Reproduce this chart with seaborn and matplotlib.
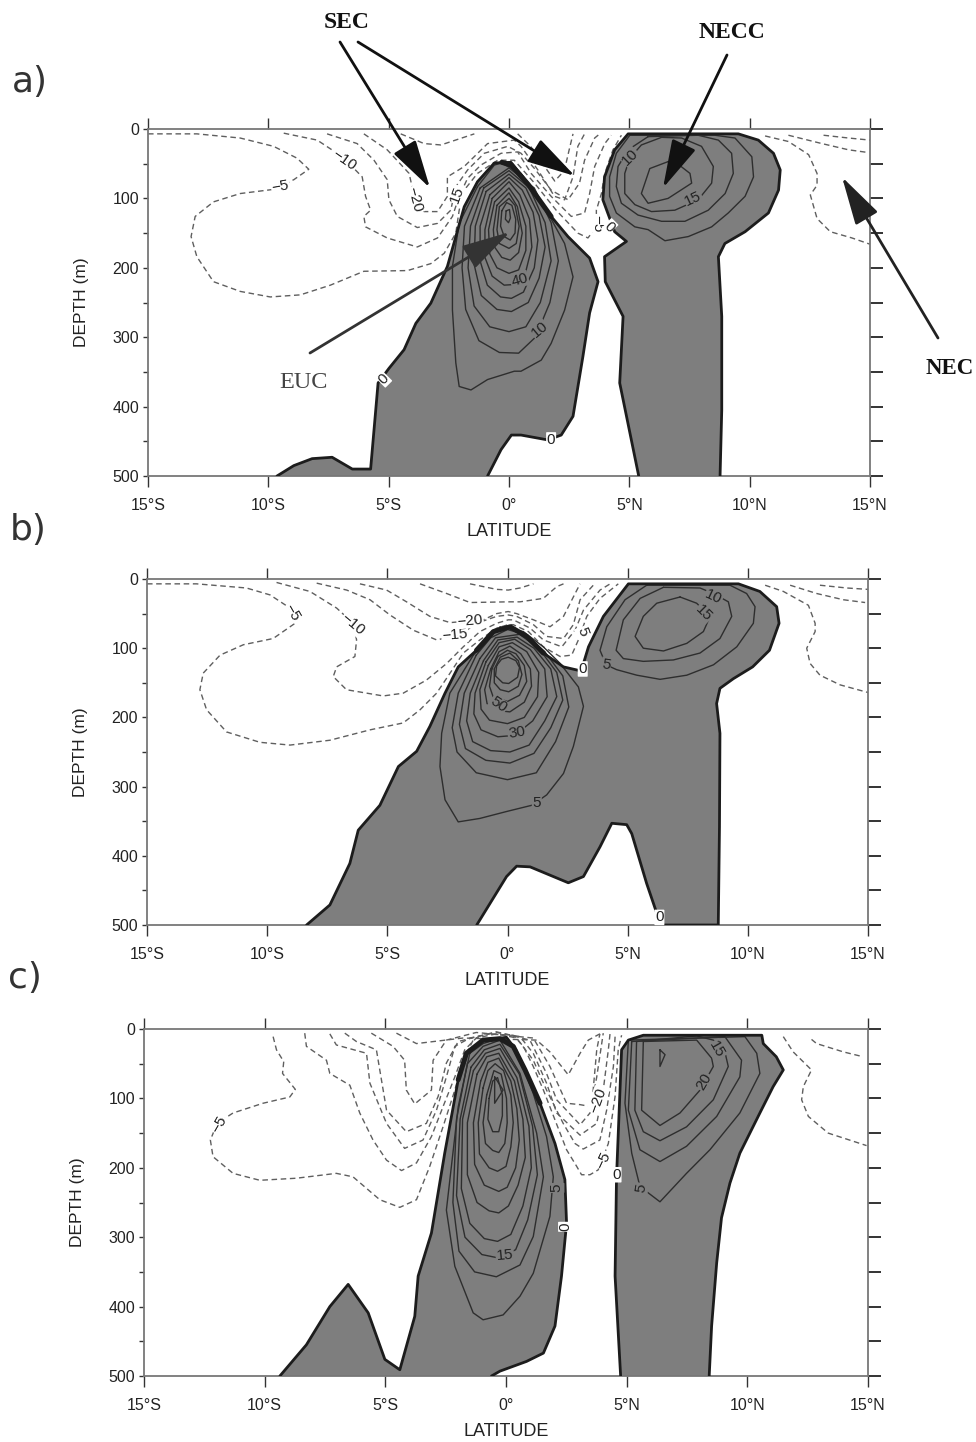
"""
plot.py - zonal velocity sections (a, b, c), contours traced from the figure
Run: python plot.py
"""

import matplotlib
matplotlib.use("Agg")
import matplotlib.pyplot as plt
import seaborn as sns

# ---------------------------------------------
# Axis values
# ---------------------------------------------
LAT_TICKS = [-15, -10, -5, 0, 5, 10, 15]
LAT_LABELS = ["15°S", "10°S", "5°S", "0°", "5°N", "10°N", "15°N"]
DEPTH_TICKS = [0, 50, 100, 150, 200, 250, 300, 350, 400, 450, 500]
DEPTH_LABELS = ["0", "", "100", "", "200", "", "300", "", "400", "", "500"]

# ---------------------------------------------
# Panel a : (lat, depth)
# ---------------------------------------------
A_ZERO_WEST = [(-9.64,500),(-8.94,485),(-8.18,475),(-7.35,473),(-6.51,490),(-5.75,490),(-5.44,366),(-4.99,345),
               (-4.36,318),(-3.87,280),(-3.25,251),(-2.56,198),(-2.21,155),(-1.86,112),(-1.31,76),(-.61,49),(.08,48),
               (.78,78),(1.75,126),(2.45,155),(3.35,186),(3.7,220),(3.35,265),(3.07,328),(2.66,414),(2.17,441),
               (1.61,448),(.5,441),(.1,441),(-.33,462),(-.89,500)]
A_ZERO_EAST = [(5.39,500),(4.6,366),(4.74,270),(4.0,220),(3.97,184),(4.88,162),(4.39,148),(3.9,102),(3.97,69),
               (4.39,30),(4.95,7),(9.53,7),(10.36,16),(10.99,35),(11.27,59),(11.2,88),(10.78,121),(9.81,148),
               (8.97,165),(8.7,184),(8.84,270),(8.84,405),(8.77,500)]
A_CREST = [(-.3,48),(.1,52),(.8,80),(1.75,126)]
A_RING1 = [(-1.31,83),(-2.07,136),(-2.35,198),(-2.35,261),(-2.21,337),(-2.07,371),(-1.58,376),(-.89,361),(.22,349),
           (.5,349),(1.34,333),(1.75,309),(2.31,261),(2.66,213),(2.31,165),(1.47,112),(.5,64),(-.33,49),(-.61,52)]
A_RING2 = [(-1.2,85),(-1.85,140),(-1.95,200),(-1.8,260),(-1.25,305),(-.4,322),(.4,323),(1.1,300),(1.7,250),
           (2.05,190),(1.75,135),(1.05,85),(0,56)]
A_RING3 = [(-1.05,85),(-1.6,140),(-1.7,200),(-1.45,255),(-.8,285),(0,292),(.7,285),(1.3,250),(1.75,190),(1.5,135),
           (.85,85),(0,60)]
A_RING4 = [(-.95,90),(-1.4,140),(-1.45,195),(-1.15,240),(-.5,260),(.1,263),(.8,250),(1.25,215),(1.5,170),(1.25,125),
           (.7,85),(0,65)]
A_RING5 = [(-.8,95),(-1.2,140),(-1.2,190),(-.9,225),(-.35,242),(.1,244),(.6,235),(1.05,200),(1.2,160),(1.0,120),
           (.55,88),(0,70)]
A_RING6 = [(-.7,100),(-1.0,145),(-1.0,185),(-.7,212),(-.2,225),(.25,224),(.7,205),(.95,170),(.85,130),(.45,95),(0,76)]
A_RING7 = [(-.6,105),(-.85,145),(-.8,180),(-.5,200),(0,208),(.4,203),(.7,175),(.7,140),(.4,105),(0,85)]
A_RING8 = [(-.5,110),(-.65,145),(-.6,170),(-.3,185),(.05,189),(.4,178),(.55,150),(.35,112),(0,92)]
A_RING9 = [(-.4,112),(-.5,145),(-.4,165),(0,172),(.3,165),(.42,140),(.25,110),(0,100)]
A_RING10 = [(-.3,118),(-.35,140),(-.2,155),(.05,160),(.25,150),(.28,130),(.12,110),(-.1,106)]
A_CORE = [(-.12,118),(-.15,130),(-.02,135),(.06,128),(.02,116)]
A_EAST1 = [(5.02,9),(4.46,35),(4.18,69),(4.18,97),(4.46,121),(5.23,141),(5.78,145),(6.48,161),(7.45,155),(8.42,141),
           (9.11,121),(9.81,97),(10.16,69),(10.09,40),(9.39,13),(8.56,9)]
A_EAST2 = [(5.78,11),(4.95,30),(4.53,54),(4.46,83),(4.67,107),(5.36,124),(6.34,133),(7.31,133),(8.28,117),(8.98,93),
           (9.32,64),(9.25,35),(8.7,16),(7.86,9)]
A_EAST3 = [(6.34,12),(5.5,23),(5.02,42),(4.81,64),(4.81,93),(5.23,109),(5.92,119),(6.89,117),(7.86,102),(8.42,78),
           (8.49,54),(8.0,25),(7.17,13)]
A_EAST4 = [(6.61,47),(5.85,57),(5.5,93),(5.78,107),(6.61,100),(7.59,78),(7.52,64),(6.89,47)]
A_NEG5 = [(-15,7),(-12.97,7),(-11.17,13),(-9.78,25),(-8.81,42),(-8.32,58),(-8.94,73),(-9.78,87),(-11.17,93),
          (-12.28,105),(-13.04,126),(-13.21,155),(-12.97,184),(-12.28,220),(-11.17,234),(-9.92,242),(-8.67,239),
          (-7.42,225),(-6.03,205),(-4.22,204),(-3.25,194),(-2.69,179),(-2.21,150),(-2.07,117),(-1.86,88),(-1.31,64),
          (-.47,45),(.22,45),(1.06,78),(1.96,117),(2.86,150),(3.28,157),(3.63,141),(3.63,117),(3.84,93),(3.98,64),
          (4.32,30),(4.67,9)]
A_NEG10 = [(-9.36,6),(-7.97,16),(-7.14,35),(-6.58,52),(-6.1,69),(-5.96,97),(-5.75,117),(-6.03,126),(-5.96,141),
           (-5.06,157),(-3.81,170),(-2.97,157),(-2.35,126),(-2.07,97),(-1.72,71),(-1.17,52),(-.33,35),(.36,33),
           (.92,64),(1.75,97),(2.59,126),(3.14,121),(3.35,93),(3.56,54),(3.98,21),(4.25,9)]
A_NEG15 = [(-7.56,7),(-6.31,21),(-5.61,45),(-5.06,73),(-4.99,102),(-4.64,126),(-3.81,142),(-2.97,136),(-2.42,117),
           (-2.21,83),(-1.72,59),(-1.03,35),(-.05,25),(.5,35),(1.06,57),(1.75,88),(2.45,102),(2.93,78),(3.14,45),
           (3.56,13),(3.77,7)]
A_NEG20 = [(-6.03,7),(-5.06,30),(-4.15,64),(-3.94,97),(-3.53,119),(-2.97,119),(-2.56,97),(-2.56,69),(-1.86,54),
           (-.89,21),(.22,16),(.5,25),(1.2,59),(1.89,97),(2.31,102),(2.66,69),(2.86,25),(3.14,7)]
A_NEG25 = [(-4.5,7),(-3.53,21),(-2.83,23),(-1.44,7)]
A_NEG30 = [(.36,7),(.9,25),(1.4,50),(1.9,75),(2.3,60),(2.5,30),(2.66,7)]
A_NEG_E1 = [(10.64,10),(11.61,18),(12.45,37),(12.8,64),(12.8,81),(12.52,95),(12.8,129),(13.35,148),(14.25,157),(15,166)]
A_NEG_E2 = [(11.61,9),(13.0,21),(14.11,30),(14.95,34)]
A_NEG_E3 = [(13.07,9),(14.11,13),(15,16)]
A_LABELS = [(-9.5,83,"−5",10,"w"),(-6.86,45,"−10",-35,"w"),(-3.94,102,"−20",-75,"w"),(-2.14,95,"15",70,"w"),
            (3.67,136,"−5",-90,"w"),(-5.22,360,"0",45,"w"),(1.75,448,"0",0,"w"),(4.18,141,"0",-45,"w"),
            (.43,217,"40",15,"g"),(1.27,289,"10",40,"g"),(5.02,40,"10",45,"g"),(7.66,101,"15",25,"g")]

# ---------------------------------------------
# Panel b
# ---------------------------------------------
B_ZERO = [(-8.36,500),(-7.39,471),(-6.56,411),(-6.21,363),(-5.31,327),(-4.54,271),(-3.78,249),(-3.23,213),(-2.6,165),
          (-2.05,127),(-1.29,103),(-.59,76),(.03,69),(.8,83),(1.49,107),(2.33,127),(2.95,132),(3.16,122),(3.37,98),
          (3.99,54),(5.03,7),(9.61,7),(10.5,18),(11.2,40),(11.3,64),(10.9,103),(10.2,127),(9.4,144),(8.84,158),
          (8.7,180),(8.84,223),(8.82,358),(8.77,500),(6.42,500),(6.28,490),(5.79,440),(5.17,368),(4.96,355),
          (4.34,353),(3.85,387),(3.16,430),(2.53,439),(1.77,428),(.94,416),(.38,415),(-.04,430),(-1.28,500)]
B_CREST = [(-1.29,103),(-.59,76),(.11,69),(.8,83),(1.49,107)]
B_RING1 = [(-1.42,110),(-2.4,165),(-2.74,223),(-2.81,271),(-2.6,319),(-2.05,351),(-1.15,346),(-.04,336),(1.01,327),
           (1.63,312),(2.33,281),(2.74,242),(3.16,184),(2.95,156),(2.19,122),(1.49,98),(.66,76),(-.31,69)]
B_RING2 = [(-1.3,110),(-2.05,165),(-2.3,215),(-2.1,250),(-1.3,280),(0,290),(1.2,280),(2.0,235),(2.55,185),(2.3,140),
           (1.55,105),(.7,80),(0,73),(-.7,85)]
B_RING3 = [(-1.15,115),(-1.8,165),(-2.0,210),(-1.75,245),(-.9,262),(.1,266),(1.1,252),(1.8,215),(2.3,175),(2.05,135),
           (1.3,100),(.5,80),(-.5,85)]
B_RING4 = [(-1.0,118),(-1.55,165),(-1.7,205),(-1.45,235),(-.7,248),(.1,250),(.9,240),(1.55,205),(2.05,170),(1.8,130),
           (1.1,100),(.4,84),(-.4,88)]
B_RING5 = [(-.9,120),(-1.35,165),(-1.4,195),(-1.1,218),(-.4,228),(.3,226),(1.05,205),(1.65,170),(1.55,130),(.95,102),
           (.3,87),(-.35,92)]
B_RING6 = [(-.8,125),(-1.15,160),(-1.1,188),(-.75,204),(0,209),(.7,200),(1.25,170),(1.3,135),(.8,105),(.2,92),(-.35,98)]
B_RING7 = [(-.7,130),(-.95,160),(-.85,180),(-.45,190),(.1,192),(.7,178),(1.0,155),(.95,130),(.55,108),(.1,97),(-.35,105)]
B_RING8 = [(-.65,130),(-.75,155),(-.6,170),(0,177),(.5,168),(.8,148),(.7,125),(.35,108),(0,103),(-.4,112)]
B_RING9 = [(-.55,130),(-.55,150),(-.3,160),(.05,163),(.45,155),(.6,138),(.45,118),(.1,107),(-.3,113)]
B_CORE = [(-.45,125),(-.5,140),(-.2,150),(.05,151),(.42,142),(.5,128),(.35,118),(.03,113),(-.25,116)]
B_EAST1 = [(5.79,9),(4.89,30),(4.13,69),(3.85,103),(4.1,124),(4.54,131),(5.38,139),(6.35,145),(7.46,139),(8.57,124),
           (9.54,98),(10.23,64),(10.3,40),(9.95,21),(9.26,9)]
B_EAST2 = [(6.49,12),(5.52,28),(4.82,59),(4.52,103),(4.82,115),(5.65,119),(6.9,117),(8.01,107),(8.84,86),(9.33,54),
           (9.19,33),(8.57,21),(8.01,13)]
B_EAST3 = [(7.18,26),(6.21,35),(5.65,54),(5.31,83),(5.65,100),(6.49,104),(7.46,93),(8.15,76),(8.43,54),(7.87,35)]
B_NEG5 = [(-15,7),(-12.94,7),(-10.86,13),(-9.88,23),(-9.05,42),(-8.84,64),(-9.75,86),(-10.99,95),(-11.96,110),
          (-12.66,136),(-12.8,160),(-12.52,189),(-11.69,221),(-10.3,236),(-9.05,240),(-7.39,233),(-5.72,218),
          (-4.34,208),(-3.64,189),(-2.95,165),(-2.39,136),(-1.84,107),(-1.15,88),(-.45,71),(.03,66),(.24,66),(.87,76),
          (1.49,98),(2.19,112),(2.67,110),(2.95,88),(3.3,54),(3.85,28),(4.61,7)]
B_NEG10 = [(-9.61,5),(-8.22,18),(-7.11,42),(-6.42,64),(-6.28,88),(-6.35,112),(-7.11,127),(-7.25,141),(-6.7,160),
           (-5.17,169),(-4.34,165),(-3.37,146),(-2.53,122),(-1.84,98),(-1.15,76),(-.45,64),(.03,59),(.24,59),(.94,71),
           (1.49,88),(2.26,98),(2.81,74),(3.16,45),(3.85,16),(4.27,7)]
B_NEG15 = [(-7.94,6),(-6.69,16),(-5.72,30),(-4.89,52),(-3.92,74),(-2.95,88),(-1.98,81),(-1.29,64),(-.45,54),(.03,52),
           (.38,54),(1.08,66),(1.63,83),(2.33,86),(2.74,66),(3.02,30),(3.57,9)]
B_NEG20 = [(-6.14,7),(-5.03,16),(-4.2,33),(-3.23,54),(-2.39,63),(-1.01,59),(-.45,50),(.03,47),(.38,50),(1.08,59),
           (1.77,69),(2.33,54),(2.74,26),(3.02,7)]
B_NEG25 = [(-3.64,7),(-2.53,21),(-1.56,34),(.03,33),(.52,33),(1.49,28),(2.05,11),(2.33,7)]
B_NEG30 = [(-1.56,7),(-.45,15),(.03,16),(.52,13),(1.08,7)]
B_NEG_E1 = [(10.72,9),(11.48,18),(12.52,38),(12.8,64),(12.8,76),(12.45,100),(12.59,122),(13.0,139),(13.84,153),(15,164)]
B_NEG_E2 = [(11.76,9),(12.87,21),(13.98,30),(14.88,34)]
B_NEG_E3 = [(13.0,9),(14.12,13),(15,15)]
B_LABELS = [(-8.95,49,"−5",-60,"w"),(-6.42,66,"−10",-40,"w"),(-2.19,81,"−15",5,"w"),(-1.56,60,"−20",5,"w"),
            (3.13,76,"5",-70,"w"),(3.13,130,"0",0,"w"),(6.32,489,"0",0,"w"),(-.38,182,"50",-35,"g"),
            (.38,222,"30",10,"g"),(1.22,323,"5",0,"g"),(4.1,124,"5",-10,"g"),(8.57,26,"10",-25,"g"),
            (8.15,50,"15",-45,"g")]

# ---------------------------------------------
# Panel c
# ---------------------------------------------
C_ZERO_WEST = [(-9.37,500),(-8.27,455),(-7.3,400),(-6.54,368),(-5.71,409),(-5.02,476),(-4.4,491),(-3.78,414),(-3.64,356),
               (-3.09,294),(-2.54,179),(-1.98,73),(-1.64,35),(-.95,16),(.02,12),(.3,25),(.79,59),(1.41,107),(2.03,165),
               (2.44,217),(2.51,280),(2.3,356),(2.03,428),(1.55,467),(.85,479),(-.25,493),(-.6,500)]
C_ZERO_EAST = [(4.75,500),(4.52,356),(4.58,213),(4.79,30),(5.07,16),(5.69,9),(10.6,9),(10.66,21),(11.2,40),(11.49,59),
               (11.07,83),(10.52,121),(9.69,179),(9.28,222),(8.93,272),(8.73,337),(8.52,428),(8.42,500)]
C_CREST = [(-1.98,73),(-1.64,35),(-.95,16),(-.25,14),(.3,25),(.79,59),(1.41,107)]
C_RING1 = [(-1.5,35),(-1.98,112),(-2.47,261),(-2.12,342),(-1.36,409),(-.95,419),(-.12,412),(.58,385),(1.13,352),
           (1.82,270),(1.96,213),(1.68,155),(1.13,93),(.44,30),(-.25,13),(-.95,21)]
C_RING2 = [(-1.6,50),(-2.05,130),(-2.2,250),(-1.95,320),(-1.3,350),(-.4,357),(.58,340),(1.13,299),(1.55,213),(1.27,150),
           (.58,64),(-.25,16),(-.95,25)]
C_RING3 = [(-1.45,55),(-1.9,130),(-2.05,240),(-1.7,300),(-1.0,325),(-.3,330),(.4,318),(.9,275),(1.3,210),(1.1,140),
           (.55,65),(-.25,22),(-.9,30)]
C_RING4 = [(-1.35,60),(-1.8,130),(-1.85,230),(-1.5,280),(-.9,302),(-.35,306),(.2,296),(.7,255),(1.05,200),(.95,140),
           (.45,70),(-.25,28),(-.85,35)]
C_RING5 = [(-1.2,65),(-1.6,135),(-1.6,210),(-1.2,250),(-.7,262),(-.3,265),(.1,255),(.5,225),(.8,185),(.7,130),(.35,75),
           (-.3,35),(-.8,40)]
C_RING6 = [(-1.05,75),(-1.35,135),(-1.3,195),(-.9,225),(-.3,234),(.05,228),(.4,200),(.55,160),(.45,115),(.2,75),(-.3,42),
           (-.75,48)]
C_RING7 = [(-.95,85),(-1.15,135),(-1.1,180),(-.7,200),(-.35,205),(0,198),(.2,170),(.3,135),(.2,95),(-.1,60),(-.45,50),
           (-.75,60)]
C_RING8 = [(-.8,95),(-.95,135),(-.85,165),(-.55,175),(-.3,178),(-.05,165),(.05,135),(.02,100),(-.2,65),(-.5,60)]
C_RING9 = [(-.7,100),(-.75,130),(-.55,148),(-.3,148),(-.15,125),(-.15,95),(-.35,70),(-.55,75)]
C_CORE = [(-.47,69),(-.12,88),(-.47,107)]
C_EAST1 = [(5.07,16),(4.93,107),(5.21,179),(5.55,227),(6.38,249),(7.48,208),(8.45,174),(9.69,121),(10.52,64),(10.39,35),
           (9.9,11)]
C_EAST2 = [(5.21,18),(5.07,117),(5.55,174),(6.38,191),(7.48,169),(8.73,126),(9.69,69),(9.76,45),(9.07,11)]
C_EAST3 = [(5.41,18),(5.34,117),(5.69,148),(6.38,161),(7.48,141),(8.59,102),(9.21,54),(9.07,33),(8.59,16),(7.9,10)]
C_EAST4 = [(5.69,18),(5.62,117),(6.38,139),(7.21,121),(8.04,88),(8.59,54),(8.52,42),(7.9,16)]
C_EAST5 = [(6.38,30),(6.59,37),(6.38,54)]
C_NEG5 = [(-9.65,11),(-9.51,30),(-9.21,47),(-9.26,64),(-8.73,87),(-8.96,98),(-10.07,107),(-11.31,121),(-11.97,136),
          (-12.25,160),(-12.14,184),(-11.31,208),(-10.2,218),(-8.68,215),(-7.03,208),(-6.34,213),(-5.23,246),(-4.4,257),
          (-3.71,246),(-3.16,198),(-2.61,141),(-2.12,88),(-1.78,45),(-1.36,16),(-.95,7),(.3,9),(.72,25),(1.13,54),
          (1.55,88),(2.03,131),(2.51,174),(2.93,198),(3.13,210),(3.48,210),(3.82,203),(4.24,165),(4.52,97),(4.65,30),
          (4.79,9)]
C_NEG10 = [(-8.34,6),(-8.27,25),(-7.44,45),(-7.3,64),(-6.47,81),(-6.06,121),(-5.51,160),(-4.95,189),(-4.33,204),
           (-3.71,193),(-3.09,155),(-2.61,112),(-2.12,69),(-1.71,30),(-1.23,13),(-.4,7),(.44,13),(1.13,45),(1.68,88),
           (2.37,136),(2.86,165),(3.2,173),(3.89,160),(4.17,117),(4.45,54),(4.52,11)]
C_NEG15 = [(-7.3,7),(-7.03,23),(-5.78,35),(-5.64,78),(-4.95,136),(-4.2,172),(-3.44,160),(-2.88,117),(-2.47,69),
           (-2.12,25),(-1.5,13),(-.4,5),(.58,11),(1.13,35),(1.68,78),(2.1,121),(3.07,153),(3.76,136),(4.03,88),
           (4.24,30),(4.31,7)]
C_NEG20 = [(-6.68,6),(-6.2,18),(-5.37,30),(-4.95,117),(-4.13,148),(-3.3,136),(-2.81,97),(-2.47,49),(-1.98,18),(-.4,4),
           (.99,16),(1.68,64),(2.1,102),(3.07,138),(3.48,121),(3.76,69),(4.03,6)]
C_NEG25 = [(-5.58,6),(-4.68,25),(-4.2,45),(-4.13,88),(-3.78,108),(-3.09,88),(-3.02,45),(-2.47,16),(-1.23,5),(1.13,13),
           (1.82,54),(2.51,107),(3.07,109),(3.55,112),(3.76,30),(3.89,7)]
C_NEG30 = [(-4.54,6),(-3.71,21),(-1.78,13),(1.27,16),(1.82,33),(2.58,66),(3.07,35),(3.41,16),(3.89,7)]
C_NEG_E1 = [(11.49,11),(11.9,33),(12.66,59),(12.32,83),(12.25,102),(12.53,126),(13.35,150),(14.94,168)]
C_NEG_E2 = [(12.66,15),(12.87,21),(13.98,33),(14.8,40)]
C_LABELS = [(-11.89,138,"−5",60,"w"),(3.8,103,"−20",70,"w"),(4.03,189,"−5",65,"w"),(4.58,210,"0",0,"w"),
            (2.48,285,"0",90,"w"),(5.58,229,"5",80,"g"),(2.1,229,"5",90,"g"),(-.05,326,"15",5,"g"),
            (8.2,76,"20",60,"g"),(8.73,30,"15",-60,"g")]

# Per panel collections
PANELS = [
    dict(box=(148, 129, 870, 476), letter="a)", letter_xy=(30, 82), fills=[A_ZERO_WEST, A_ZERO_EAST], crest=A_CREST,
         rings=[A_RING1, A_RING2, A_RING3, A_RING4, A_RING5, A_RING6, A_RING7, A_RING8, A_RING9, A_RING10, A_CORE,
                A_EAST1, A_EAST2, A_EAST3, A_EAST4],
         neg=[A_NEG5, A_NEG10, A_NEG15, A_NEG20, A_NEG25, A_NEG30, A_NEG_E1, A_NEG_E2, A_NEG_E3], labels=A_LABELS),
    dict(box=(147, 579, 868, 925), letter="b)", letter_xy=(28, 530), fills=[B_ZERO], crest=B_CREST,
         rings=[B_RING1, B_RING2, B_RING3, B_RING4, B_RING5, B_RING6, B_RING7, B_RING8, B_RING9, B_CORE,
                B_EAST1, B_EAST2, B_EAST3],
         neg=[B_NEG5, B_NEG10, B_NEG15, B_NEG20, B_NEG25, B_NEG30, B_NEG_E1, B_NEG_E2, B_NEG_E3], labels=B_LABELS),
    dict(box=(144, 1029, 868, 1376), letter="c)", letter_xy=(25, 978), fills=[C_ZERO_WEST, C_ZERO_EAST], crest=C_CREST,
         rings=[C_RING1, C_RING2, C_RING3, C_RING4, C_RING5, C_RING6, C_RING7, C_RING8, C_RING9, C_CORE,
                C_EAST1, C_EAST2, C_EAST3, C_EAST4, C_EAST5],
         neg=[C_NEG5, C_NEG10, C_NEG15, C_NEG20, C_NEG25, C_NEG30, C_NEG_E1, C_NEG_E2], labels=C_LABELS),
]

# Annotation arrows of panel a, picture pixels (tail, head)
ARROWS = [((340, 42), (430, 188), "#111111"), ((358, 42), (575, 176), "#111111"), ((727, 55), (663, 188), "#111111"),
          ((938, 338), (842, 177), "#222222"), ((310, 353), (510, 232), "#333333")]
NAMES = [(347, 22, "SEC", "bold", 17, "#111111"), (732, 33, "NECC", "bold", 17, "#111111"),
         (950, 368, "NEC", "bold", 16.5, "#111111"), (303, 383, "EUC", "normal", 17.5, "#444444")]

FILL = "#7e7e7e"
W, H = 976, 1442
DASH = (0, (4, 2.6))

sns.set_style("ticks")
plt.rcParams["font.family"] = ["Liberation Sans", "DejaVu Sans"]
fig = plt.figure(figsize=(W / 100, H / 100), dpi=100)


def draw(ax, pts, closed=False, **kw):
    if closed:
        pts = pts + pts[:1]
    sns.lineplot(x=[p[0] for p in pts], y=[p[1] for p in pts], sort=False, estimator=None, ax=ax, legend=False, **kw)


for panel in PANELS:
    x0, y0, x1, y1 = panel["box"]
    ax = fig.add_axes([x0 / W, 1 - y1 / H, (x1 - x0) / W, (y1 - y0) / H])

    for poly in panel["fills"]:
        ax.fill([p[0] for p in poly], [p[1] for p in poly], color=FILL, lw=0, zorder=1)
    for pts in panel["neg"]:
        draw(ax, pts, color="#5f5f5f", lw=1.0, linestyle=DASH, zorder=2)
    for pts in panel["rings"]:
        draw(ax, pts, closed=True, color="#2e2e2e", lw=1.0, zorder=3)
    for poly in panel["fills"]:
        draw(ax, poly, color="#1c1c1c", lw=2.0, zorder=4)
    draw(ax, panel["crest"], color="#1c1c1c", lw=3.6, zorder=4)

    for lat, dep, txt, rot, bg in panel["labels"]:
        ax.text(lat, dep, txt, rotation=rot, ha="center", va="center", fontsize=11, color="#222222", zorder=5,
                bbox=dict(facecolor="white" if bg == "w" else FILL, edgecolor="none", boxstyle="round,pad=0.05"))

    ax.set_xlim(-15, 15)
    ax.set_ylim(500, 0)
    ax.set_xticks(LAT_TICKS, LAT_LABELS)
    ax.set_yticks(DEPTH_TICKS, DEPTH_LABELS)
    ax.xaxis.set_ticks_position("both")
    ax.tick_params(axis="x", length=8, width=1, color="#333333", labelsize=11.5, pad=8, labelcolor="#222222")
    ax.tick_params(axis="y", length=3.5, width=1, color="#333333", labelsize=11.5, pad=3, labelcolor="#222222")
    ax.set_xlabel("LATITUDE", fontsize=13, color="#222222", labelpad=7)
    ax.set_ylabel("DEPTH (m)", fontsize=12.5, color="#222222", labelpad=17)
    for side in ax.spines.values():
        side.set_color("#777777")
        side.set_linewidth(1.3)

    right = ax.secondary_yaxis("right")
    right.set_yticks(DEPTH_TICKS, [""] * len(DEPTH_TICKS))
    right.tick_params(length=9, width=1.2, color="#111111")
    right.spines["right"].set_visible(False)

    fig.text(panel["letter_xy"][0] / W, 1 - panel["letter_xy"][1] / H, panel["letter"], fontsize=26, ha="center",
             va="center", family="DejaVu Sans", fontweight="normal", color="#333333")

# Current names and arrows on top
top = fig.axes[0]
for tail, head, col in ARROWS:
    top.annotate("", xy=(head[0], H - head[1]), xytext=(tail[0], H - tail[1]), xycoords="figure pixels",
                 textcoords="figure pixels", zorder=8, annotation_clip=False,
                 arrowprops=dict(arrowstyle="-|>,head_width=0.4,head_length=1.5", mutation_scale=20, lw=2,
                                 color=col, shrinkA=0, shrinkB=0))
for px, py, name, weight, size, col in NAMES:
    fig.text(px / W, 1 - py / H, name, fontsize=size, fontweight=weight, family="Liberation Serif", color=col,
             ha="center", va="center")

fig.savefig("out.png", dpi=100)
print("saved out.png")
